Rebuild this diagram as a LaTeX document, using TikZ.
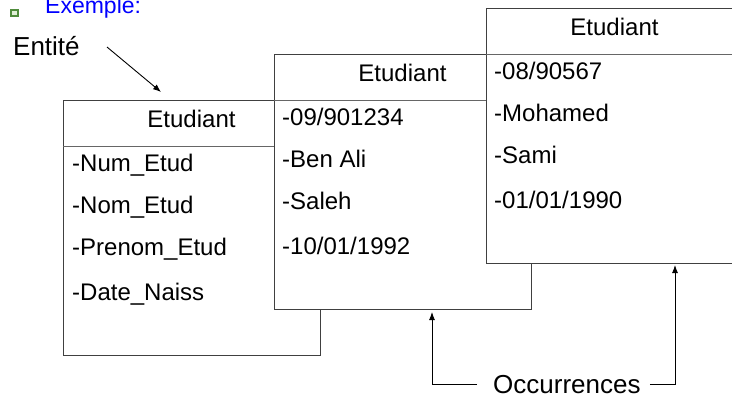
\documentclass[tikz,border=0pt]{standalone}
\usepackage{fontspec}
\setmainfont{Liberation Sans}
\usetikzlibrary{arrows.meta,calc}
\definecolor{bulletgreen}{RGB}{80,140,60}
\definecolor{bulletlight}{RGB}{225,240,215}
\tikzset{
  entbox/.style={draw=black!75, line width=0.9pt, fill=white, rectangle,
    minimum width=257pt, minimum height=255pt, inner sep=0pt, outer sep=0pt,
    anchor=north west},
  sepline/.style={draw=black!60, line width=0.9pt},
  hdr/.style={font=\fontsize{24}{28}\selectfont, anchor=base, inner sep=0pt},
  row/.style={font=\fontsize{24}{28}\selectfont, anchor=base west, inner sep=0pt},
  big/.style={font=\fontsize{26}{30}\selectfont, inner sep=0pt},
  arr/.style={draw=black, line width=0.9pt, -{Latex[length=8pt,width=6pt]}},
  plainline/.style={draw=black!80, line width=0.9pt}
}
\newcommand{\entrow}[3]{%
  \node[row] (#1) at ([xshift=9pt,yshift=#2]#1box.north west) {#3};}
\begin{document}
\begin{tikzpicture}[x=1pt,y=-1pt]
  \clip (0,0) rectangle (732,397);
  \fill[white] (0,0) rectangle (732,397);

  % heading bullet and title
  \fill[bulletgreen] (10,9) rectangle (19,17);
  \fill[bulletlight] (11.5,10.5) rectangle (17,15);
  \node[anchor=base west, inner sep=0pt, text=blue,
        font=\fontsize{23}{27}\selectfont] (title) at (45,13) {Exemple:};

  % entity label and its arrow
  \node[big, anchor=base west] (ent) at (13,55) {Entité};
  \coordinate (entS) at (107,47);
  \coordinate (entT) at (161,92);
  \draw[arr] (entS) -- (entT);

  % entity box
  \node[entbox] (abox) at (63,100) {};
  \draw[sepline] ([yshift=-46pt]abox.north west) -- ([yshift=-46pt]abox.north east);
  \node[hdr] (ahdr) at ([yshift=-27pt]abox.north) {Etudiant};
  \node[row] (a1) at ([xshift=9pt,yshift=-71pt]abox.north west) {-Num\_Etud};
  \node[row] (a2) at ([xshift=9pt,yshift=-113pt]abox.north west) {-Nom\_Etud};
  \node[row] (a3) at ([xshift=9pt,yshift=-155pt]abox.north west) {-Prenom\_Etud};
  \node[row] (a4) at ([xshift=9pt,yshift=-200pt]abox.north west) {-Date\_Naiss};

  % first occurrence
  \node[entbox] (bbox) at (274,54) {};
  \draw[sepline] ([yshift=-46pt]bbox.north west) -- ([yshift=-46pt]bbox.north east);
  \node[hdr] (bhdr) at ([yshift=-27pt]bbox.north) {Etudiant};
  \node[row] (b1) at ([xshift=8pt,yshift=-71pt]bbox.north west) {-09/901234};
  \node[row] (b2) at ([xshift=8pt,yshift=-113pt]bbox.north west) {-Ben Ali};
  \node[row] (b3) at ([xshift=8pt,yshift=-155pt]bbox.north west) {-Saleh};
  \node[row] (b4) at ([xshift=8pt,yshift=-200pt]bbox.north west) {-10/01/1992};

  % second occurrence
  \node[entbox] (cbox) at (486,8) {};
  \draw[sepline] ([yshift=-46pt]cbox.north west) -- ([yshift=-46pt]cbox.north east);
  \node[hdr] (chdr) at ([yshift=-27pt]cbox.north) {Etudiant};
  \node[row] (c1) at ([xshift=8pt,yshift=-71pt]cbox.north west) {-08/90567};
  \node[row] (c2) at ([xshift=8pt,yshift=-113pt]cbox.north west) {-Mohamed};
  \node[row] (c3) at ([xshift=8pt,yshift=-155pt]cbox.north west) {-Sami};
  \node[row] (c4) at ([xshift=8pt,yshift=-200pt]cbox.north west) {-01/01/1990};

  % occurrences label with its two arrows
  \node[big, anchor=base west] (occ) at (493,393) {Occurrences};
  \draw[arr] ([xshift=-16pt]occ.west) -| ([yshift=-3pt]bbox.south -| 432,0);
  \draw[arr] ([xshift=9pt]occ.east) -| ([yshift=-2pt]cbox.south -| 675,0);
\end{tikzpicture}
\end{document}
